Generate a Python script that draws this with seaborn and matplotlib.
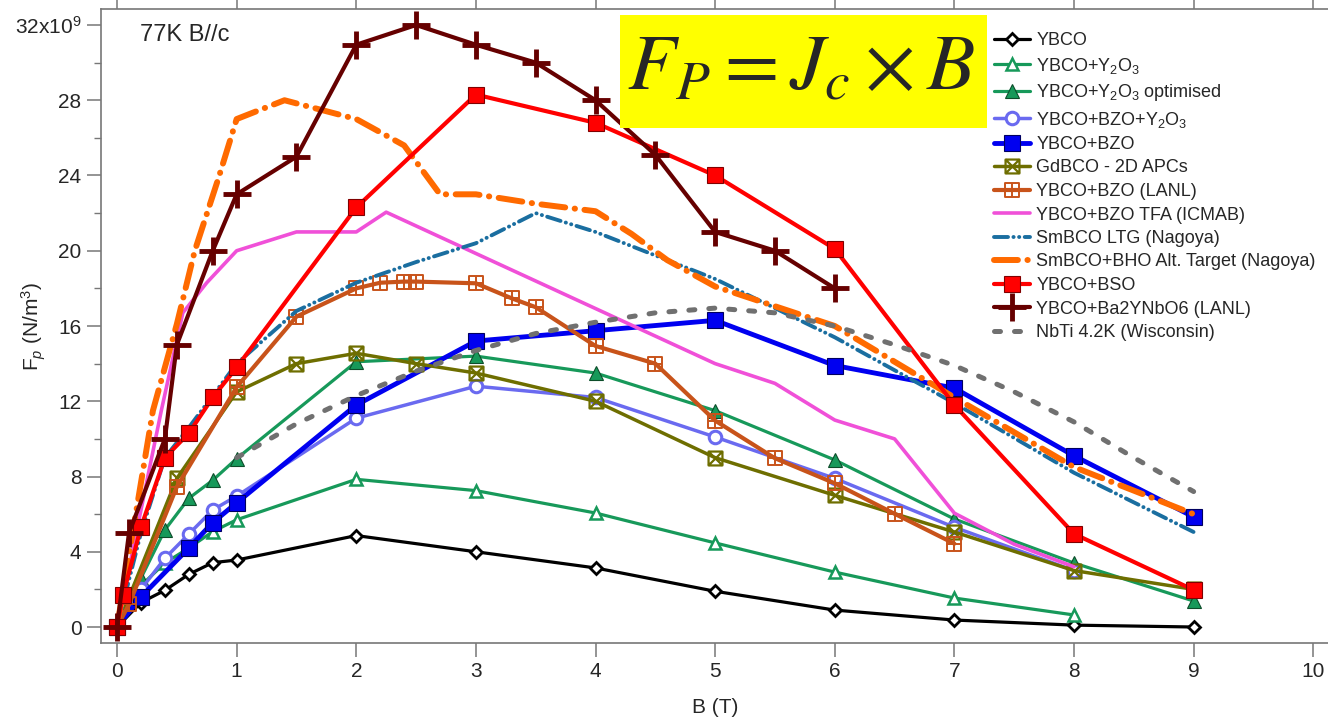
import matplotlib
matplotlib.use('Agg')
import matplotlib.pyplot as plt
import seaborn as sns
import pandas as pd
from matplotlib.path import Path
from matplotlib.patches import Rectangle

# Pinning force data at 77K, B//c, values in units of 1e9 N/m^3
ybco_x = [0, 0.2, 0.4, 0.6, 0.8, 1, 2, 3, 4, 5, 6, 7, 8, 9]
ybco_y = [0, 1.3, 1.95, 2.8, 3.42, 3.56, 4.86, 4.0, 3.14, 1.9, 0.9, 0.37, 0.1, 0.0]

y2o3_x = [0, 0.2, 0.4, 0.6, 0.8, 1, 2, 3, 4, 5, 6, 7, 8]
y2o3_y = [0, 2.2, 3.4, 4.2, 5.07, 5.7, 7.85, 7.25, 6.06, 4.47, 2.92, 1.54, 0.64]

opt_x = [0, 0.2, 0.4, 0.6, 0.8, 1, 2, 3, 4, 5, 6, 7, 8, 9]
opt_y = [0, 2.6, 5.16, 6.84, 7.8, 8.95, 14.1, 14.4, 13.5, 11.5, 8.88, 5.74, 3.4, 1.38]

bzoy_x = [0, 0.2, 0.4, 0.6, 0.8, 1, 2, 3, 4, 5, 6, 7, 8]
bzoy_y = [0, 2.0, 3.65, 4.94, 6.22, 6.96, 11.1, 12.8, 12.2, 10.1, 7.9, 5.3, 3.0]

bzo_x = [0, 0.2, 0.6, 0.8, 1, 2, 3, 4, 5, 6, 7, 8, 9]
bzo_y = [0, 1.6, 4.2, 5.55, 6.6, 11.8, 15.2, 15.75, 16.3, 13.9, 12.7, 9.1, 5.85]

gd_x = [0, 0.5, 1, 1.5, 2, 2.5, 3, 4, 5, 6, 7, 8, 9]
gd_y = [0, 7.9, 12.5, 14.0, 14.55, 14.0, 13.5, 12.0, 9.0, 7.0, 5.05, 3.0, 2.0]

lanl_x = [0, 0.1, 0.5, 1, 1.5, 2, 2.2, 2.4, 2.5, 3, 3.3, 3.5, 4, 4.5, 5, 5.5, 6, 6.5, 7]
lanl_y = [0, 1.2, 7.45, 12.75, 16.5, 18.0, 18.3, 18.36, 18.36, 18.27, 17.47, 17.0,
          14.94, 14.0, 10.97, 8.97, 7.64, 6.02, 4.43]

tfa_x = [0, 0.37, 0.55, 0.75, 1, 1.5, 2, 2.25, 5, 5.5, 6, 6.5, 7, 7.5, 8]
tfa_y = [0, 11.5, 16.7, 18.3, 20.0, 21.0, 21.0, 22.05, 14.0, 12.95, 11.0, 10.0, 6.05, 4.4, 3.2]

ltg_x = [0, 0.2, 0.4, 0.6, 0.8, 1, 1.5, 2, 2.5, 3, 3.5, 4, 5, 6, 7, 8, 9]
ltg_y = [0, 5.0, 9.0, 10.6, 12.3, 14.0, 16.8, 18.3, 19.4, 20.4, 22.0, 21.0, 18.5, 15.4,
         11.9, 8.2, 5.05]

bho_x = [0, 0.3, 0.5, 0.65, 0.85, 1.0, 1.4, 2.0, 2.4, 2.7, 3.0, 3.5, 4.0, 4.3, 4.6, 5, 6,
         7, 8, 9]
bho_y = [0, 11.5, 16.1, 20.0, 23.9, 27.0, 28.0, 27.0, 25.6, 23.0, 23.0, 22.5, 22.1, 20.9,
         19.5, 18.1, 16.0, 12.2, 8.5, 6.0]

bso_x = [0, 0.05, 0.2, 0.4, 0.6, 0.8, 1, 2, 3, 4, 5, 6, 7, 8, 9]
bso_y = [0, 1.7, 5.3, 9.0, 10.3, 12.2, 13.8, 22.3, 28.3, 26.8, 24.0, 20.1, 11.8, 4.95, 1.97]

nb_x = [0, 0.1, 0.4, 0.5, 0.8, 1, 1.5, 2, 2.5, 3, 3.5, 4, 4.5, 5, 5.5, 6]
nb_y = [0, 5.0, 10.0, 15.0, 20.0, 23.0, 25.0, 30.95, 32.0, 30.95, 30.0, 28.0, 25.1, 21.0,
        20.0, 18.0]

nbti_x = [1, 1.5, 2, 2.5, 3, 3.5, 4, 4.5, 5, 5.5, 6, 6.5, 7, 7.5, 8, 8.5, 9]
nbti_y = [9.0, 10.8, 12.3, 13.6, 14.7, 15.6, 16.2, 16.7, 16.95, 16.7, 16.0, 15.0, 13.9,
          12.5, 10.9, 9.0, 7.2]

labels = ['YBCO', 'YBCO+Y$_2$O$_3$', 'YBCO+Y$_2$O$_3$ optimised', 'YBCO+BZO+Y$_2$O$_3$',
          'YBCO+BZO', 'GdBCO - 2D APCs', 'YBCO+BZO (LANL)', 'YBCO+BZO TFA (ICMAB)',
          'SmBCO LTG (Nagoya)', 'SmBCO+BHO Alt. Target (Nagoya)', 'YBCO+BSO',
          'YBCO+Ba2YNbO6 (LANL)', 'NbTi 4.2K (Wisconsin)']

ytick_vals = [0, 4, 8, 12, 16, 20, 24, 28, 32]
ytick_labels = ['0', '4', '8', '12', '16', '20', '24', '28', '32x10$^9$']
xtick_vals = [0, 1, 2, 3, 4, 5, 6, 7, 8, 9, 10]

sns.set_style('ticks')
plt.rcParams['font.family'] = ['Liberation Sans', 'DejaVu Sans']
plt.rcParams['mathtext.fontset'] = 'custom'
plt.rcParams['mathtext.rm'] = 'Liberation Sans'
plt.rcParams['mathtext.it'] = 'Liberation Sans:italic'

# boxed cross and boxed plus markers
M, L, C = Path.MOVETO, Path.LINETO, Path.CLOSEPOLY
sq_v = [(-1, -1), (1, -1), (1, 1), (-1, 1), (-1, -1)]
sq_c = [M, L, L, L, C]
box_x = Path(sq_v + [(-1, -1), (1, 1), (-1, 1), (1, -1)], sq_c + [M, L, M, L])
box_p = Path(sq_v + [(0, -1), (0, 1), (-1, 0), (1, 0)], sq_c + [M, L, M, L])

series = [
    (ybco_x, ybco_y, dict(color='black', lw=2.3, marker='D', ms=6.5, mfc='white',
                          mec='black', mew=2.0)),
    (y2o3_x, y2o3_y, dict(color='#17995a', lw=2.3, marker='^', ms=9, mfc='white',
                          mec='#17995a', mew=1.8)),
    (opt_x, opt_y, dict(color='#17995a', lw=2.3, marker='^', ms=10.5, mfc='#17995a',
                        mec='#0d4d2a', mew=0.8)),
    (bzoy_x, bzoy_y, dict(color='#6a6af0', lw=2.5, marker='o', ms=9, mfc='white',
                          mec='#6a6af0', mew=2.2)),
    (bzo_x, bzo_y, dict(color='#0000f0', lw=3.5, marker='s', ms=11, mfc='#0000f0',
                        mec='#000060', mew=0.8)),
    (gd_x, gd_y, dict(color='#6e6e00', lw=2.5, marker=box_x, ms=10, mfc='none',
                      mec='#6e6e00', mew=1.6)),
    (lanl_x, lanl_y, dict(color='#c8531a', lw=3.0, marker=box_p, ms=9.5, mfc='none',
                          mec='#c8531a', mew=1.4)),
    (tfa_x, tfa_y, dict(color='#f050d8', lw=2.6)),
    (ltg_x, ltg_y, dict(color='#1a6ea0', lw=2.8, ls=(0, (3.6, 1.4, 0.05, 1.4, 0.05, 1.4)),
                        dash_capstyle='round')),
    (bho_x, bho_y, dict(color='#ff6a00', lw=4.3, ls=(0, (4.0, 1.6, 0.05, 1.6)),
                        dash_capstyle='round')),
    (bso_x, bso_y, dict(color='#ff0000', lw=3.0, marker='s', ms=12, mfc='#ff0000',
                        mec='#800000', mew=0.8)),
    (nb_x, nb_y, dict(color='#660000', lw=3.0, marker='+', ms=20, mec='#660000',
                      mew=3.5)),
    (nbti_x, nbti_y, dict(color='#707070', lw=3.6, ls=(0, (1.2, 2.8)),
                          dash_capstyle='round')),
]

fig = plt.figure(figsize=(13.28, 7.24), dpi=100)
ax = fig.add_axes([101 / 1328, 81 / 724, 1229 / 1328, 634 / 724])

for (xs, ys, kw), lab in zip(series, labels):
    df = pd.DataFrame({'B': xs, 'Fp': ys})
    kw = dict(kw)
    kw.setdefault('mew', 0)
    kw.setdefault('mec', kw['color'])
    sns.lineplot(data=df, x='B', y='Fp', ax=ax, label=lab, sort=False,
                 estimator=None, **kw)

ax.set_xlim(-0.134, 10.14)
ax.set_ylim(-0.85, 32.85)
ax.set_xticks(xtick_vals)
ax.set_xticklabels([str(v) for v in xtick_vals])
ax.set_yticks(ytick_vals)
ax.set_yticklabels(ytick_labels)
ax.set_yticks([2, 6, 10, 14, 18, 22, 26, 30], minor=True)

for s in ['left', 'top', 'bottom', 'right']:
    ax.spines[s].set_color('#777777')
    ax.spines[s].set_linewidth(1.2)
ax.tick_params(axis='both', which='major', direction='out', length=10, width=1.1,
               color='#777777', labelsize=15, pad=4)
ax.tick_params(axis='y', which='minor', direction='out', length=5, width=1.0,
               color='#777777')
ax.tick_params(axis='x', top=True)

ax.set_xlabel('B (T)', fontsize=15, labelpad=12)
ax.set_ylabel('F$_p$ (N/m$^3$)', fontsize=15)
ax.yaxis.set_label_coords(-0.043, 0.5)

fig.text(140 / 1328, (724 - 35) / 724, '77K B//c', fontsize=17, va='center')

leg = ax.legend(loc='upper left', bbox_to_anchor=(994 / 1328, 1 - 32 / 724),
                bbox_transform=fig.transFigure, frameon=False, fontsize=13,
                handlelength=2.0, handletextpad=0.35, labelspacing=0.36,
                borderpad=0, borderaxespad=0)

fig.patches.append(Rectangle((620 / 1328, (724 - 128) / 724), 367 / 1328, 113 / 724,
                             transform=fig.transFigure, facecolor='#ffff00',
                             edgecolor='none', zorder=5))
fig.text(801 / 1328, (724 - 68) / 724,
         r'$\mathit{F}_{\mathit{P}} = \mathit{J}_{\mathit{c}} \times \mathit{B}$',
         math_fontfamily='stix', fontsize=57, ha='center', va='center', zorder=6)

fig.savefig('out.png', dpi=100)
